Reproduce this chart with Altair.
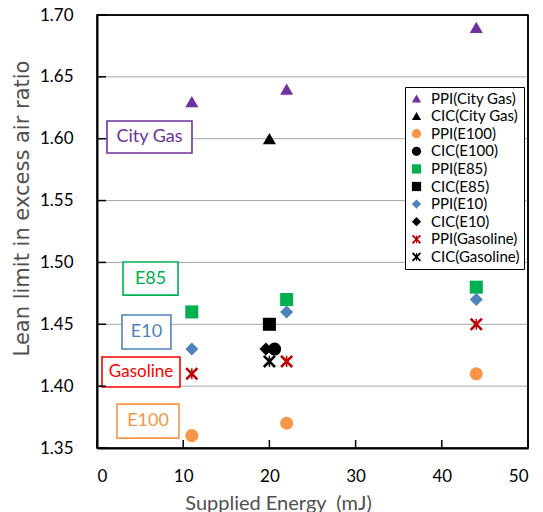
import altair as alt
import pandas as pd

# ---------------- data ----------------
series_names = ["PPI(City Gas)", "CIC(City Gas)", "PPI(E100)", "CIC(E100)",
                "PPI(E85)", "CIC(E85)", "PPI(E10)", "CIC(E10)",
                "PPI(Gasoline)", "CIC(Gasoline)"]
series_colors = ["#7030A0", "#000000", "#F79646", "#000000",
                 "#00B050", "#000000", "#4F81BD", "#000000",
                 "#C00000", "#000000"]
x_path = ("M-1,-0.72L-0.72,-1L0,-0.28L0.72,-1L1,-0.72L0.28,0L1,0.72L0.72,1L0,0.28"
          "L-0.72,1L-1,0.72L-0.28,0Z M-0.11,-0.85L0.11,-0.85L0.11,0.85L-0.11,0.85Z")
series_shapes = ["triangle-up", "triangle-up", "circle", "circle",
                 "square", "square", "diamond", "diamond", x_path, x_path]

ppi_energy = [11, 22, 44]
ppi_city_gas = [1.63, 1.64, 1.69]
ppi_e100 = [1.36, 1.37, 1.41]
ppi_e85 = [1.46, 1.47, 1.48]
ppi_e10 = [1.43, 1.46, 1.47]
ppi_gasoline = [1.41, 1.42, 1.45]

cic_energy = [20.0, 20.6, 20.0, 19.6, 20.0]   # City Gas, E100, E85, E10, Gasoline
cic_values = [1.60, 1.43, 1.45, 1.43, 1.42]

y_ticks = [1.35, 1.40, 1.45, 1.50, 1.55, 1.60, 1.65, 1.70]
x_ticks = [0, 10, 20, 30, 40, 50]

ann_text = ["City Gas", "E85", "E10", "Gasoline", "E100"]
ann_color = ["#7030A0", "#00B050", "#4F81BD", "#FF0000", "#F79646"]
ann_x1 = [1.16, 3.02, 2.90, 0.58, 2.32]
ann_x2 = [11.02, 9.40, 8.58, 9.63, 9.51]
ann_y1 = [1.5884, 1.4736, 1.4300, 1.3993, 1.3580]
ann_y2 = [1.6143, 1.5003, 1.4575, 1.4235, 1.3855]
ann_size = [18, 18, 18, 17, 18]

# ---------------- tables ----------------
rows = []
for name, vals in [("PPI(City Gas)", ppi_city_gas), ("PPI(E100)", ppi_e100),
                   ("PPI(E85)", ppi_e85), ("PPI(E10)", ppi_e10),
                   ("PPI(Gasoline)", ppi_gasoline)]:
    for e, v in zip(ppi_energy, vals):
        rows.append({"series": name, "energy": e, "lam": v})
for name, e, v in zip(["CIC(City Gas)", "CIC(E100)", "CIC(E85)", "CIC(E10)", "CIC(Gasoline)"],
                      cic_energy, cic_values):
    rows.append({"series": name, "energy": e, "lam": v})
pts = pd.DataFrame(rows)

ann = pd.DataFrame({"text": ann_text, "color": ann_color, "x1": ann_x1, "x2": ann_x2,
                    "y1": ann_y1, "y2": ann_y2, "fs": ann_size})
ann["xc"] = (ann["x1"] + ann["x2"]) / 2
ann["yc"] = (ann["y1"] + ann["y2"]) / 2

grid_df = pd.DataFrame({"v": y_ticks[1:-1]})
ytick_df = pd.DataFrame({"v": y_ticks})
xtick_df = pd.DataFrame({"v": x_ticks})

xscale = alt.Scale(domain=[0, 50], nice=False, zero=False)
yscale = alt.Scale(domain=[1.35, 1.70], nice=False, zero=False)

W, H = 431, 433

x_axis = alt.Axis(values=x_ticks, grid=False, ticks=False, tickSize=0,
                  domainColor="black", domainWidth=2,
                  labelFont="Lato", labelFontSize=17, labelColor="black",
                  labelPadding=20,
                  title="Supplied Energy\u00a0 (mJ)", titleFont="Lato",
                  titleFontSize=20, titleFontWeight="normal",
                  titleColor="#505050", titleX=181, titleY=61,
                  titleAlign="center", titleBaseline="alphabetic")
y_axis = alt.Axis(values=y_ticks, format=".2f", grid=False, ticks=False,
                  tickSize=0, domainColor="black", domainWidth=2,
                  labelFont="Lato", labelFontSize=17, labelColor="black",
                  labelPadding=24,
                  title="Lean limit in excess air ratio",
                  titleFont="DejaVu Sans", titleFontSize=21,
                  titleFontWeight="normal", titleColor="#505050",
                  titleX=-69, titleY=193, titleAngle=270,
                  titleAlign="center", titleBaseline="alphabetic")

grid = alt.Chart(grid_df).mark_rule(color="#A6A6A6", strokeWidth=1).encode(
    y=alt.Y("v:Q", scale=yscale, axis=y_axis),
    x=alt.value(0), x2=alt.value(W))

top_border = alt.Chart(pd.DataFrame({"v": [y_ticks[-1]]})).mark_rule(
    color="black", strokeWidth=1.5).encode(
    y=alt.Y("v:Q", scale=yscale, axis=y_axis), x=alt.value(0), x2=alt.value(W))
right_border = alt.Chart(pd.DataFrame({"v": [x_ticks[-1]]})).mark_rule(
    color="black", strokeWidth=1.5).encode(
    x=alt.X("v:Q", scale=xscale, axis=x_axis), y=alt.value(0), y2=alt.value(H))

boxes = alt.Chart(ann).mark_rect(fill="white", strokeWidth=1.6).encode(
    x=alt.X("x1:Q", scale=xscale, axis=x_axis), x2="x2:Q",
    y=alt.Y("y1:Q", scale=yscale, axis=y_axis), y2="y2:Q",
    stroke=alt.Stroke("color:N", scale=None))

texts = alt.Chart(ann).mark_text(font="Lato", baseline="middle", align="center").encode(
    x=alt.X("xc:Q", scale=xscale, axis=x_axis),
    y=alt.Y("yc:Q", scale=yscale, axis=y_axis),
    text="text:N",
    color=alt.Color("color:N", scale=None),
    size=alt.Size("fs:Q", scale=None))

legend = alt.Legend(orient="none", legendX=308, legendY=72, title=None,
                    strokeColor="black", fillColor="white", padding=4,
                    labelFont="Lato", labelFontSize=15, labelColor="black",
                    symbolSize=85, rowPadding=1.6, labelOffset=7,
                    symbolStrokeWidth=0, symbolOpacity=1)

points = alt.Chart(pts).mark_point(filled=True, size=170, opacity=1).encode(
    x=alt.X("energy:Q", scale=xscale, axis=x_axis),
    y=alt.Y("lam:Q", scale=yscale, axis=y_axis),
    color=alt.Color("series:N", scale=alt.Scale(domain=series_names, range=series_colors),
                    legend=legend, sort=series_names),
    shape=alt.Shape("series:N", scale=alt.Scale(domain=series_names, range=series_shapes),
                    legend=legend, sort=series_names),
    order=alt.Order("lam:Q"))

yticks = alt.Chart(ytick_df).mark_rule(color="black", strokeWidth=1.5).encode(
    y=alt.Y("v:Q", scale=yscale, axis=y_axis),
    x=alt.value(0), x2=alt.value(9))

xticks = alt.Chart(xtick_df).mark_rule(color="black", strokeWidth=1.5).encode(
    x=alt.X("v:Q", scale=xscale, axis=x_axis),
    y=alt.value(H), y2=alt.value(H - 8))

chart = alt.layer(grid, top_border, right_border, boxes, texts, points, yticks, xticks).properties(
    width=W, height=H,
    padding={"left": 97, "top": 15, "right": 15, "bottom": 64},
    autosize=alt.AutoSizeParams(type="none"),
).configure(background="white").configure_view(stroke="black", strokeWidth=1.5)

chart.save("out.html", embed_options={"renderer": "svg", "actions": False})
